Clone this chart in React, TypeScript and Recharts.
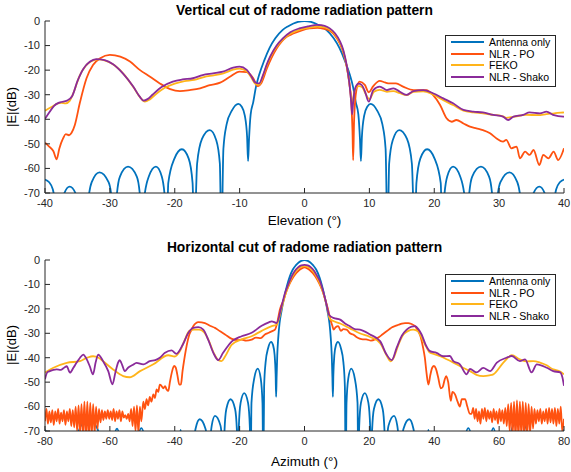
import React from 'react';
import { LineChart, Line, XAxis, YAxis } from 'recharts';

const seriesNames = ['Antenna only', 'NLR - PO', 'FEKO', 'NLR - Shako'];
const seriesColors = ['#0072BD', '#FF5210', '#FFB41A', '#8A2B9A'];
const yTicks = [-70, -60, -50, -40, -30, -20, -10, 0];
const vTicks = [-40, -30, -20, -10, 0, 10, 20, 30, 40];
const hTicks = [-80, -60, -40, -20, 0, 20, 40, 60, 80];

// Vertical cut (elevation, dB)
const vAntenna: [number, number][] = [
  [-40,-64.5],[-39.4,-65.5],[-38.8,-68.5],[-38.3,-78],[-38,-90],[-37.7,-81],[-37.2,-71.4],[-36.2,-67.4],[-35.1,-71.4],[-34.6,-81],[-33.7,-90],
  [-33.4,-75],[-32.8,-65.6],[-31.6,-61.6],[-30.2,-65.6],[-29.6,-75.6],[-29.3,-90],[-29,-73],[-28.45,-63.3],[-27.2,-59.3],[-25.85,-63.3],[-25.3,-73],[-25,-90],
  [-24.75,-73],[-24,-63.3],[-22.9,-59.3],[-22,-63.3],[-21.5,-73],[-21.25,-90],[-21,-66],[-20.05,-56],[-18.9,-52.2],[-17.85,-56],[-17.25,-66],[-17,-90],
  [-16.55,-58],[-15.8,-48],[-14.6,-44.4],[-13.6,-48.5],[-13.05,-58],[-12.8,-90],[-12.5,-52],[-12,-42],[-11.2,-36.5],[-10.2,-33.7],[-9.7,-34.8],[-9.2,-38.5],
  [-8.85,-47],[-8.7,-57],[-8.55,-48],[-8.3,-38],[-7.9,-33],[-7.5,-27],[-7,-22],[-6.2,-16],[-5.4,-11],[-4.5,-7],[-3.4,-3.7],[-2.5,-2.1],[-1.7,-1],[-1,-0.35],
  [0,0],[1,-0.35],[1.7,-1],[2.5,-2.1],[3.4,-3.7],[4.5,-7],[5.4,-11],[6.2,-16],[7,-22],[7.5,-27],[7.9,-33],[8.3,-38],[8.55,-48],[8.7,-57],[8.85,-47],
  [9.2,-38.5],[9.7,-34.8],[10.2,-33.7],[11.2,-36.5],[12,-42],[12.5,-52],[12.8,-90],[13.05,-58],[13.6,-48.5],[14.6,-44.4],[15.8,-48],[16.55,-58],[17,-90],
  [17.25,-66],[17.85,-56],[18.9,-52.2],[20.05,-56],[21,-66],[21.25,-90],[21.5,-73],[22,-63.3],[22.9,-59.3],[24,-63.3],[24.75,-73],[25,-90],
  [25.3,-73],[25.85,-63.3],[27.2,-59.3],[28.45,-63.3],[29,-73],[29.3,-90],[29.6,-75.6],[30.2,-65.6],[31.6,-61.6],[32.8,-65.6],[33.4,-75],[33.7,-90],
  [34.6,-81],[35.1,-71.4],[36.2,-67.4],[37.2,-71.4],[37.7,-81],[38,-90],[38.3,-78],[38.8,-68.5],[39.4,-65.5],[40,-64.5],
];

const vNlrPo: [number, number][] = [
  [-40,-49.5],[-39.4,-51],[-38.7,-53],[-38.2,-56.3],[-37.8,-52],[-37.2,-47.7],[-36.8,-46],[-36.3,-46.5],[-35.9,-45.5],[-35.4,-42.3],[-34.6,-33],
  [-33.6,-23.3],[-32.6,-17.9],[-31.5,-15.2],[-30,-13.8],[-28.4,-14.5],[-26.9,-16.5],[-25.4,-19.9],[-23.8,-22.7],[-22.3,-25.4],[-20.7,-27.7],
  [-19.2,-28.5],[-17.7,-28.1],[-16.1,-27.4],[-14.6,-26.1],[-13,-25.1],[-11.5,-22.7],[-10,-20.6],[-8.9,-20.8],[-7.9,-23.3],[-7.2,-26.5],[-6.6,-25],
  [-5.8,-19.3],[-4.3,-11.2],[-2.8,-6.5],[-1.7,-5.1],[0.8,-3],[2,-2.8],[3,-3.2],[3.9,-4],[4.7,-6],[5.45,-9.2],[6,-13],[6.5,-18.5],[6.9,-25],
  [7.2,-33],[7.4,-45],[7.5,-56.6],[7.65,-40],[8,-28.1],[8.5,-24.7],[9.3,-26],[9.9,-29],[10.6,-26.5],[11.6,-24.4],[12.4,-25],[13.1,-25.4],
  [14.1,-25.4],[15.2,-26.7],[16.8,-28.1],[18.8,-28.1],[19.8,-30.1],[20.9,-34.2],[21.9,-39.6],[22.7,-41],[23.4,-40.3],[24.5,-41.7],[25.5,-43],
  [26.5,-43.7],[27.5,-44.4],[28.6,-45.7],[29.6,-47.8],[30.6,-49.1],[31.1,-48.4],[31.9,-51.8],[32.7,-51.1],[33.2,-55.9],[34,-53.2],[34.7,-54.5],
  [35.3,-52.5],[36.2,-58.6],[36.8,-54.5],[37.6,-55.9],[38.4,-53.2],[39.1,-56.6],[40,-51.8],
];

const vFeko: [number, number][] = [
  [-40,-36.5],[-39,-35],[-38,-33.5],[-37.5,-33.3],[-36.8,-33.5],[-36.2,-32.5],[-35.5,-28.5],[-34.7,-22.5],[-33.8,-18.5],[-32.8,-16.3],[-31.8,-15.6],
  [-30.6,-16.2],[-29.3,-18],[-27.8,-21.8],[-26.3,-27.2],[-25.3,-31.2],[-24.6,-32.8],[-23.9,-32],[-23.1,-30.2],[-21.6,-27.3],[-20,-25.5],[-18.5,-24.5],
  [-17,-24],[-15.5,-22.8],[-14,-22.1],[-12.5,-21.3],[-11,-19.8],[-10,-19.4],[-8.9,-20.5],[-8.2,-23],[-7.6,-25.5],[-7,-26],[-6.4,-22.5],[-5.8,-18],
  [-5.3,-15],[-4.3,-10.5],[-3.3,-7.5],[-2.2,-5.2],[-0.8,-3.6],[0.5,-2.8],[2,-2.3],[3.1,-2.6],[3.9,-3.5],[4.7,-5.5],[5.45,-8.8],[6,-12.5],[6.5,-18.3],
  [6.9,-25],[7.2,-31],[7.4,-34],[7.6,-30],[7.9,-27.5],[8.4,-26.5],[8.9,-27],[9.4,-29.5],[10,-31.8],[10.7,-28.8],[11.6,-28],[12.7,-28.8],[13.7,-28.5],
  [14.7,-29.4],[15.7,-30.2],[16.8,-28.8],[18.3,-28.6],[19.8,-29.9],[21.4,-32.2],[22.9,-34.2],[24.5,-36.5],[26,-37.2],[27.5,-37.6],[29.1,-38.2],
  [30.6,-38.8],[31.1,-39.4],[32.2,-39],[34.2,-38.2],[36,-38.3],[37.3,-37.9],[38.5,-37.6],[39.9,-37.2],[40,-37.5],
];

const vShako: [number, number][] = [
  [-40,-39.8],[-39.3,-37],[-38.6,-34.5],[-37.7,-33.1],[-36.6,-32.4],[-35.8,-30.5],[-35,-24.5],[-34.1,-19.5],[-33.1,-16.6],[-32.1,-15.5],[-30.8,-15.9],
  [-29.5,-17.6],[-28,-21.3],[-26.4,-26.7],[-25.4,-30.8],[-24.8,-32.4],[-24.2,-31.8],[-23.4,-29.9],[-21.9,-26.7],[-20.3,-24.7],[-18.8,-23.8],
  [-17.2,-23.3],[-15.7,-22],[-14.1,-21.3],[-12.6,-20.6],[-11,-19],[-10,-18.6],[-8.9,-19.9],[-8.2,-22.5],[-7.6,-25],[-7,-25.4],[-6.4,-22],[-5.8,-17.5],
  [-5.3,-14.5],[-4.3,-10],[-3.3,-7],[-2.2,-4.6],[-0.8,-3],[0.5,-2.2],[2.1,-1.6],[3.1,-2],[3.9,-3],[4.7,-5],[5.45,-8.2],[6,-12],[6.5,-17.9],[6.9,-25],
  [7.2,-33],[7.35,-38],[7.5,-33],[7.8,-27.5],[8.3,-25.5],[8.8,-26],[9.3,-28.5],[9.9,-32.8],[10.6,-28.1],[11.6,-26.7],[12.7,-28.1],[13.7,-27.4],
  [14.7,-28.8],[15.7,-30.1],[16.8,-28.5],[18.3,-28.1],[19.8,-29.4],[21.4,-31.5],[22.9,-33.5],[24.5,-36.2],[26,-36.9],[27.5,-37.2],[29.1,-38.2],
  [30.6,-38.9],[31.4,-40.3],[32.2,-38.9],[33.7,-38.2],[34.7,-37.2],[36.3,-37.6],[37.3,-36.9],[38.3,-38.2],[39.9,-38.9],[40,-38.9],
];

// Horizontal cut (azimuth, dB)
const hAntenna: [number, number][] = [
  [-80,-69.5],[-79.4,-72],[-78.8,-90],[-70.6,-90],[-69.8,-71],[-68.5,-67],[-66.4,-65.5],[-64.5,-67.5],[-63.4,-71],[-62.8,-90],[-59.4,-90],
  [-58.7,-73],[-57.8,-69],[-57,-73],[-56.3,-90],[-52.2,-90],[-51.3,-73],[-50.3,-68.8],[-49.3,-73],[-48.6,-90],[-39,-90],[-38.6,-75],[-38.2,-69.5],
  [-37.8,-75],[-37.4,-90],[-34.5,-90],[-34.2,-79],[-33.6,-69.2],[-32.3,-65.2],[-30.5,-69.2],[-29.8,-79],[-29.5,-90],[-29.2,-77.8],[-28.6,-67.8],
  [-27.6,-63.8],[-25.9,-67.8],[-25.3,-77.8],[-25,-90],[-24.7,-71],[-24.1,-61],[-22.8,-57],[-21.4,-61],[-20.8,-71],[-20.5,-90],[-20.25,-68.5],
  [-19.7,-58.5],[-18.6,-54.5],[-17.4,-58.5],[-16.85,-68.5],[-16.6,-90],[-16.35,-58.5],[-15.5,-48.5],[-14.4,-44.5],[-13.5,-48.5],[-12.95,-58.5],
  [-12.7,-90],[-12.45,-52],[-12,-42],[-11.2,-36],[-10.3,-33.5],[-9.7,-34.8],[-9.2,-39],[-8.9,-47],[-8.75,-56],[-8.6,-48],[-8.4,-39],[-8.1,-32],
  [-7.7,-26],[-7.1,-21],[-6.3,-15.5],[-5.5,-11],[-4.6,-7],[-3.6,-3.9],[-2.7,-2.2],[-1.8,-1],[-1,-0.35],
  [0,0],[1,-0.35],[1.8,-1],[2.7,-2.2],[3.6,-3.9],[4.6,-7],[5.5,-11],[6.3,-15.5],[7.1,-21],[7.7,-26],[8.1,-32],[8.4,-39],[8.6,-48],[8.75,-56],
  [8.9,-47],[9.2,-39],[9.7,-34.8],[10.3,-33.5],[11.2,-36],[12,-42],[12.45,-52],[12.7,-90],[12.95,-58.5],[13.5,-48.5],[14.4,-44.5],[15.5,-48.5],
  [16.35,-58.5],[16.6,-90],[16.85,-68.5],[17.4,-58.5],[18.6,-54.5],[19.7,-58.5],[20.25,-68.5],[20.5,-90],[20.8,-71],[21.4,-61],[22.8,-57],
  [24.1,-61],[24.7,-71],[25,-90],[25.3,-77.8],[25.9,-67.8],[27.6,-63.8],[28.6,-67.8],[29.2,-77.8],[29.5,-90],[29.8,-79],[30.5,-69.2],[32.3,-65.2],
  [33.6,-69.2],[34.2,-79],[34.5,-90],[37.4,-90],[37.8,-75],[38.2,-69.5],[38.6,-75],[39,-90],[48.8,-90],[49.5,-73],[50.5,-68.8],[51.5,-73],
  [52.2,-90],[56.8,-90],[57.4,-73],[58.2,-68.8],[59,-73],[59.6,-90],[62.8,-90],[63.6,-71],[64.8,-66.8],[66.2,-65.8],[67.6,-67],[68.8,-71],
  [69.6,-90],[78.6,-90],[79.2,-71],[80,-69.5],
];

const hNlrPo: [number, number][] = [
  [-80,-66],[-79.55,-61],[-79.1,-67],[-78.65,-62],[-78.2,-66.5],[-77.75,-61.5],[-77.3,-67.5],[-76.85,-62],[-76.4,-66],[-75.95,-61],[-75.5,-67],
  [-75.05,-62.5],[-74.6,-66],[-74.15,-61.5],[-73.7,-67.5],[-73.25,-62],[-72.8,-66],[-72.35,-61],[-71.9,-68],[-71.45,-61.5],[-71,-68.5],[-70.55,-60],
  [-70.1,-70],[-69.65,-59.5],[-69.2,-71],[-68.75,-59],[-68.3,-72],[-67.85,-58],[-67.4,-73],[-66.95,-58],[-66.5,-73],[-66.05,-58.5],[-65.6,-72],
  [-65.15,-59],[-64.7,-71],[-64.25,-60],[-63.8,-69],[-63.35,-61],[-62.9,-66.5],[-62.45,-61.5],[-62,-65.5],[-61.55,-62],[-61.1,-65],[-60.65,-61.5],
  [-60.2,-65],[-59.75,-62],[-59.3,-65.5],[-58.85,-61],[-58.4,-66],[-57.95,-62],[-57.5,-65],[-57.05,-61.5],[-56.6,-66],[-56.15,-62],[-55.7,-64.5],
  [-55.25,-63.5],[-54.8,-65],[-54.35,-63],[-53.9,-66],[-53.45,-61],[-53,-68],[-52.55,-60],[-52.1,-70],[-51.65,-59.5],[-51.2,-71],[-50.75,-60],
  [-50.3,-66],[-49.7,-58],[-49.2,-61],[-48.7,-57],[-48.2,-59.5],[-47.7,-56],[-47.2,-58],[-46.6,-55],[-46.1,-56.5],[-45.6,-53],[-45.1,-54],
  [-44.6,-51],[-44.1,-51.5],[-43.5,-52.5],[-43,-51.6],[-42.5,-53],[-42,-53.6],[-41.5,-50],[-40.9,-46],[-40.2,-43.4],[-39.7,-44],[-39.2,-47],
  [-38.6,-51],[-38.1,-50.9],[-37.6,-45.5],[-37.1,-41],[-36.6,-37],[-36,-33],[-35.5,-30.5],[-34.8,-28.5],[-34.3,-27.1],[-32.7,-25.4],[-30.7,-25.8],
  [-29,-27],[-27.6,-27.8],[-26,-29.2],[-24.5,-30.5],[-22.4,-32.3],[-20.5,-32.8],[-19.4,-32.6],[-18,-33],[-16.3,-32.6],[-15,-31.8],[-13.5,-32],
  [-12.2,-30.5],[-11,-29.8],[-10.1,-29.2],[-9.1,-28.5],[-8.3,-25],[-7.6,-20.3],[-6.5,-16.6],[-5.5,-12.5],[-4.5,-9.5],[-3.5,-7.1],[-2.5,-5.3],
  [-1.5,-4],[-0.5,-3.2],[0,-3],[0.5,-3.2],[1.5,-4],[2.5,-5.3],[3.5,-7.1],[4.5,-9.5],[5.5,-12.5],[6.5,-16.6],[7.3,-20.5],[8,-24.5],[8.6,-27],
  [9,-28.5],[9.6,-27.5],[10.4,-27.1],[11.2,-29],[12,-28.3],[13,-28.5],[14,-30],[15,-30.5],[16,-31.5],[17,-32.2],[18,-32.5],[19,-32.5],[20.5,-33],
  [22,-32.3],[23,-31.5],[24,-30.5],[25,-29.5],[26,-28.5],[27,-27.5],[28,-27],[29,-26.5],[30,-26],[31,-25.8],[32,-25.8],[33,-26.2],[34,-27],
  [35,-29],[35.7,-31],[36.5,-35.5],[37.1,-40],[37.6,-46],[38.2,-51],[38.8,-47],[39.4,-44],[39.9,-43.4],[40.5,-44.5],[41.2,-48],[42,-52.5],
  [42.6,-52],[43.2,-49],[43.7,-47.5],[44.3,-50],[45.1,-57.7],[45.6,-54],[46.4,-55],[47.2,-58],[47.9,-60],[48.5,-57],[49.5,-57],[50.2,-60],[51,-63],
  [51.5,-63],[52,-60.5],[52.45,-65],[52.9,-61],[53.35,-66],[53.8,-62],[54.25,-67],[54.7,-61],[55.15,-65],[55.6,-60.5],[56.05,-66],[56.5,-61.5],
  [56.95,-65],[57.4,-62],[57.85,-66.5],[58.3,-61],[58.75,-65.5],[59.2,-62],[59.65,-67],[60.1,-61],[60.55,-66],[61,-61.5],[61.45,-67],[61.9,-60.5],
  [62.35,-68],[62.8,-59],[63.25,-70],[63.7,-58.5],[64.15,-72],[64.6,-58],[65.05,-73],[65.5,-57.5],[65.95,-73],[66.4,-58],[66.85,-72],[67.3,-58],
  [67.75,-73],[68.2,-58.5],[68.65,-72],[69.1,-59],[69.55,-71],[70,-60],[70.45,-69],[70.9,-61],[71.35,-67],[71.8,-61.5],[72.25,-66],[72.7,-61],
  [73.15,-67],[73.6,-62],[74.05,-66],[74.5,-61],[74.95,-67],[75.4,-60.5],[75.85,-66.5],[76.3,-61],[76.75,-67],[77.2,-60.5],[77.65,-68],[78.1,-61],
  [78.55,-67],[79,-60],[79.45,-70],[80,-65],
];

const hFeko: [number, number][] = [
  [-80,-46.1],[-77.4,-44.1],[-73.3,-42.1],[-69.2,-41.4],[-67,-40],[-65.2,-39.4],[-63.5,-40],[-62.1,-41.4],[-59,-44.8],[-55.9,-47.5],[-53.9,-48],
  [-50.7,-45.5],[-46.6,-42.7],[-42,-39],[-40,-39.5],[-38.5,-37.5],[-37,-33],[-35.5,-29],[-34,-28.5],[-32.5,-28.5],[-31,-29.5],[-29.5,-33],
  [-28,-38],[-26.5,-41],[-25.6,-41.4],[-24.5,-39.5],[-22.4,-34.6],[-19.4,-32.5],[-16.3,-31.2],[-13.2,-29],[-10.1,-27.1],[-8.6,-26.5],[-7.1,-20],
  [-6,-14.5],[-5,-10.8],[-4,-7.5],[-3,-5.2],[-2,-3.6],[-1,-2.8],[0,-2.5],[1,-2.8],[2,-3.6],[3,-5.2],[4,-7.5],[5,-10.5],[6,-14.5],[7,-19.5],
  [7.8,-24],[8.9,-25],[11,-26],[14,-28],[17,-30],[20.2,-31.5],[23.3,-34],[25.5,-39.5],[26.5,-41.5],[27.5,-40],[29,-34.5],[30.5,-30.5],[32,-29],
  [33.5,-28.5],[35,-29.2],[36,-31.5],[37.3,-35],[38.7,-38],[40,-38.5],[42,-39.5],[45.9,-42],[48,-43.5],[51,-45.5],[53,-47],[55.1,-47.5],[57,-47.2],
  [58.2,-46.8],[61.3,-42],[63.9,-39],[66.4,-40.7],[68.5,-41.5],[70.5,-41.4],[72.6,-42],[74.5,-43],[76.7,-44.8],[78.5,-45.5],[80,-46.8],
];

const hShako: [number, number][] = [
  [-80,-48.8],[-79.3,-46],[-78.5,-45.5],[-77.4,-45],[-76.4,-44.8],[-75.2,-45],[-74,-44],[-73.3,-43.5],[-72.3,-46.1],[-71.2,-44],[-70.3,-42.1],
  [-69.2,-40],[-68.2,-38.7],[-67.2,-40.5],[-66.2,-43.5],[-65.2,-46.8],[-64.4,-42],[-63.6,-38.7],[-62.1,-41.4],[-60.5,-45.5],[-59.2,-50.9],
  [-58.3,-46],[-57.5,-42.1],[-57,-41],[-56.2,-43],[-55.4,-45.5],[-54.4,-44.1],[-53,-43],[-51.8,-42.1],[-49.7,-42.7],[-47.7,-41.4],[-46,-41],
  [-44.6,-40],[-43,-38],[-41,-37],[-39.5,-38.4],[-37.5,-34.6],[-35.8,-29.8],[-34.3,-27.8],[-32.7,-27.5],[-31.2,-28.5],[-29.7,-32.6],[-28.1,-38],
  [-26.6,-41],[-25.1,-38],[-22.4,-33.3],[-19.4,-31.2],[-16.3,-29.8],[-13.2,-26.9],[-11,-25.5],[-10.1,-25.1],[-8.6,-25.8],[-7.1,-19],[-6,-13.5],
  [-5,-10],[-4,-6.8],[-3,-4.5],[-2,-3],[-1,-2.2],[0,-2],[1,-2.2],[2,-3],[3,-4.5],[4,-6.8],[4.8,-8.8],[5.8,-13],[6.8,-18.3],[7.6,-22.5],
  [8.9,-23.7],[11,-24.4],[12.5,-26],[14,-27.1],[15.5,-28.3],[17.1,-28.5],[20.2,-30.5],[23.3,-33.2],[25.3,-38.7],[26.9,-41],[28.4,-36],[30,-31],
  [31.5,-28.5],[33,-27.3],[34.1,-27.1],[35.2,-28.5],[36.1,-30.5],[37.3,-34.5],[38.7,-37.3],[40.7,-38],[42.8,-39.4],[44.8,-39.3],[45.9,-41.4],
  [47.9,-42.7],[50,-46.8],[51,-44.6],[53.1,-46],[55.1,-44.2],[57.2,-45.5],[59.3,-42],[62.3,-40],[63.9,-39.3],[66.4,-41.4],[68,-40.7],[70,-46],
  [71.6,-42.7],[74.7,-44.1],[76.7,-45.5],[78.8,-46],[79.5,-48],[80,-51.5],
];

const toPts = (arr: [number, number][]) => arr.map(([x, y]) => ({ x, y }));

const FONT = '"Liberation Sans", Arial, Helvetica, sans-serif';
const AXIS = '#262626';

const emptyTick = () => <g />;

function Panel({ series, ticks, domain, top, xh }: { series: [number, number][][]; ticks: number[]; domain: [number, number]; top: number; xh: number }) {
  return (
    <LineChart width={571} height={236} margin={{ top, right: 7, left: 0, bottom: 0 }}>
      <XAxis xAxisId="b" type="number" dataKey="x" domain={domain} ticks={ticks} allowDataOverflow
        height={xh} stroke={AXIS} tickSize={-5} tickMargin={11}
        tick={{ fill: AXIS, fontSize: 11, fontFamily: FONT }} interval={0} />
      <XAxis xAxisId="t" orientation="top" type="number" dataKey="x" domain={domain} ticks={ticks} allowDataOverflow
        height={0} stroke={AXIS} tickSize={-5} tick={emptyTick} interval={0} />
      <YAxis yAxisId="l" type="number" domain={[-70, 0]} ticks={yTicks} allowDataOverflow width={45}
        stroke={AXIS} tickSize={-5} tickMargin={10} interval={0}
        tick={{ fill: AXIS, fontSize: 11, fontFamily: FONT }} />
      <YAxis yAxisId="r" orientation="right" type="number" domain={[-70, 0]} ticks={yTicks} allowDataOverflow width={0}
        stroke={AXIS} tickSize={-5} tick={emptyTick} interval={0} />
      {series.map((s, i) => (
        <Line key={i} xAxisId="b" yAxisId="l" data={toPts(s)} dataKey="y" type="monotone"
          stroke={seriesColors[i]} strokeWidth={1.8} dot={false} isAnimationActive={false} />
      ))}
    </LineChart>
  );
}

function Legend({ top }: { top: number }) {
  return (
    <div style={{ position: 'absolute', left: 445, top, width: 111, height: 52, border: `1px solid ${AXIS}`,
      background: '#fff', boxSizing: 'border-box', paddingTop: 0 }}>
      {seriesNames.map((n, i) => (
        <div key={n} style={{ display: 'flex', alignItems: 'center', height: 11.7 }}>
          <div style={{ marginLeft: 5, width: 33, height: 2, background: seriesColors[i] }} />
          <span style={{ marginLeft: 5, fontSize: 10.5, fontFamily: FONT, color: '#000', whiteSpace: 'nowrap' }}>{n}</span>
        </div>
      ))}
    </div>
  );
}

const txt = (s: React.CSSProperties): React.CSSProperties => ({ position: 'absolute', fontFamily: FONT, color: '#000', whiteSpace: 'nowrap', lineHeight: '16px', ...s });

export default function App() {
  return (
    <div style={{ position: 'absolute', left: 0, top: 0, width: 571, height: 472, background: '#fff', overflow: 'hidden' }}>
      <div style={{ position: 'absolute', left: 0, top: 0 }}>
        <Panel series={[vAntenna, vNlrPo, vFeko, vShako]} ticks={vTicks} domain={[-40, 40]} top={21} xh={43} />
      </div>
      <div style={{ position: 'absolute', left: 0, top: 236 }}>
        <Panel series={[hAntenna, hNlrPo, hFeko, hShako]} ticks={hTicks} domain={[-80, 80]} top={24} xh={41} />
      </div>
      <div style={txt({ left: 0, width: 609, top: 3, textAlign: 'center', fontWeight: 'bold', fontSize: 13.8 })}>Vertical cut of radome radiation pattern</div>
      <div style={txt({ left: 0, width: 609, top: 213, textAlign: 'center', fontSize: 13.5 })}>Elevation (°)</div>
      <div style={txt({ left: 0, width: 609, top: 240, textAlign: 'center', fontWeight: 'bold', fontSize: 13.8 })}>Horizontal cut of radome radiation pattern</div>
      <div style={txt({ left: 0, width: 609, top: 454, textAlign: 'center', fontSize: 13.5 })}>Azimuth (°)</div>
      <div style={txt({ left: 12 - 30, width: 60, top: 99, textAlign: 'center', fontSize: 13, transform: 'rotate(-90deg)' })}>|E|(dB)</div>
      <div style={txt({ left: 12 - 30, width: 60, top: 337, textAlign: 'center', fontSize: 13, transform: 'rotate(-90deg)' })}>|E|(dB)</div>
      <Legend top={35} />
      <Legend top={274} />
    </div>
  );
}
